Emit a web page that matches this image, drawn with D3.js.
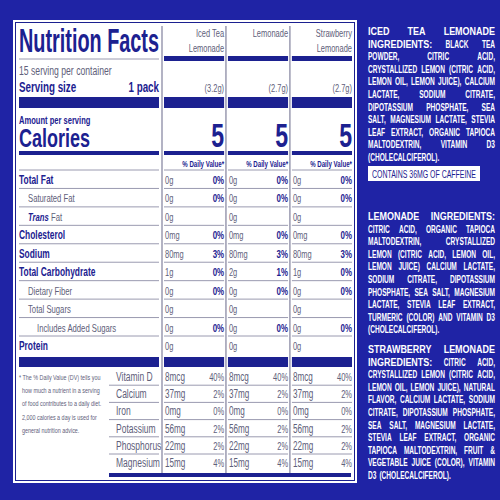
<!DOCTYPE html>
<html><head><meta charset="utf-8">
<script src="https://cdn.jsdelivr.net/npm/d3@7"></script>
<style>body{margin:0;background:#1f23a5}</style>
</head><body><div id="chart"></div>
<script>
const products = [["Iced Tea", "Lemonade"], ["Lemonade"], ["Strawberry", "Lemonade"]];
const servingSizes = ["(3.2g)", "(2.7g)", "(2.7g)"];
const calories = [5, 5, 5];
const nutrients = [
  { name: "Total Fat", bold: true, indent: 0 },
  { name: "Saturated Fat", bold: false, indent: 1 },
  { name: "Trans Fat", bold: false, indent: 1 },
  { name: "Cholesterol", bold: true, indent: 0 },
  { name: "Sodium", bold: true, indent: 0 },
  { name: "Total Carbohydrate", bold: true, indent: 0 },
  { name: "Dietary Fiber", bold: false, indent: 1 },
  { name: "Total Sugars", bold: false, indent: 1 },
  { name: "Includes Added Sugars", bold: false, indent: 2 },
  { name: "Protein", bold: true, indent: 0 }
];
const amounts = [
  ["0g", "0g", "0g", "0mg", "80mg", "1g", "0g", "0g", "0g", "0g"],
  ["0g", "0g", "0g", "0mg", "80mg", "2g", "0g", "0g", "0g", "0g"],
  ["0g", "0g", "0g", "0mg", "80mg", "1g", "0g", "0g", "0g", "0g"]
];
const dailyValues = [
  ["0%", "0%", "", "0%", "3%", "0%", "0%", "", "0%", ""],
  ["0%", "0%", "", "0%", "3%", "1%", "0%", "", "0%", ""],
  ["0%", "0%", "", "0%", "3%", "0%", "0%", "", "0%", ""]
];
const vitamins = ["Vitamin D", "Calcium", "Iron", "Potassium", "Phosphorus", "Magnesium"];
const vitAmounts = [
  ["8mcg", "37mg", "0mg", "56mg", "22mg", "15mg"],
  ["8mcg", "37mg", "0mg", "56mg", "22mg", "15mg"],
  ["8mcg", "37mg", "0mg", "56mg", "22mg", "15mg"]
];
const vitDV = [
  ["40%", "2%", "0%", "2%", "2%", "4%"],
  ["40%", "2%", "0%", "2%", "2%", "4%"],
  ["40%", "2%", "0%", "2%", "2%", "4%"]
];
const footnote = ["* The % Daily Value (DV) tells you", "how much a nutrient in a serving", "of food contributes to a daily diet.", "2,000 calories a day is used for", "general nutrition advice."];
const ingredients = [
  { head: "ICED TEA LEMONADE INGREDIENTS:", body: "BLACK TEA POWDER, CITRIC ACID, CRYSTALLIZED LEMON (CITRIC ACID, LEMON OIL, LEMON JUICE), CALCIUM LACTATE, SODIUM CITRATE, DIPOTASSIUM PHOSPHATE, SEA SALT, MAGNESIUM LACTATE, STEVIA LEAF EXTRACT, ORGANIC TAPIOCA MALTODEXTRIN, VITAMIN D3 (CHOLECALCIFEROL)." },
  { head: "LEMONADE INGREDIENTS:", body: "CITRIC ACID, ORGANIC TAPIOCA MALTODEXTRIN, CRYSTALLIZED LEMON (CITRIC ACID, LEMON OIL, LEMON JUICE) CALCIUM LACTATE, SODIUM CITRATE, DIPOTASSIUM PHOSPHATE, SEA SALT, MAGNESIUM LACTATE, STEVIA LEAF EXTRACT, TURMERIC (COLOR) AND VITAMIN D3 (CHOLECALCIFEROL)." },
  { head: "STRAWBERRY LEMONADE INGREDIENTS:", body: "CITRIC ACID, CRYSTALLIZED LEMON (CITRIC ACID, LEMON OIL, LEMON JUICE), NATURAL FLAVOR, CALCIUM LACTATE, SODIUM CITRATE, DIPOTASSIUM PHOSPHATE, SEA SALT, MAGNESIUM LACTATE, STEVIA LEAF EXTRACT, ORGANIC TAPIOCA MALTODEXTRIN, FRUIT & VEGETABLE JUICE (COLOR), VITAMIN D3 (CHOLECALCIFEROL)." }
];
const caffeine = "CONTAINS 36MG OF CAFFEINE";

const navy = "#1c2190", grey = "#60607a", rule = "#9a9ab0";
const font = "'Liberation Sans','DejaVu Sans',sans-serif";

const svg = d3.select("#chart").append("svg").attr("width", 500).attr("height", 500)
  .style("font-family", font);
svg.append("rect").attr("width", 500).attr("height", 500).attr("fill", "#1f23a5");
svg.append("rect").attr("x", 13).attr("y", 20).attr("width", 344).attr("height", 463).attr("fill", "#fff");
svg.append("rect").attr("x", 15.5).attr("y", 22.5).attr("width", 339).attr("height", 458)
  .attr("fill", "none").attr("stroke", navy).attr("stroke-width", 1);

const col = d3.scaleBand().domain(d3.range(3)).range([164, 352]).paddingInner(0.06);
const rowY = d3.scalePoint().domain(d3.range(nutrients.length)).range([180, 346]);
const vitY = d3.scalePoint().domain(d3.range(vitamins.length)).range([377, 463]);
const L0 = 19, L1 = 159;

function bar(x1, x2, y, h) {
  svg.append("rect").attr("x", x1).attr("y", y).attr("width", x2 - x1).attr("height", h).attr("fill", navy);
}
function line(x1, x2, y) {
  svg.append("line").attr("x1", x1).attr("x2", x2).attr("y1", y).attr("y2", y).attr("stroke", rule).attr("stroke-width", 1);
}
// condensed look: squeeze the natural width
function squeeze(t, k) {
  const w = t.node().getComputedTextLength();
  if (w > 0) t.attr("textLength", w * k).attr("lengthAdjust", "spacingAndGlyphs");
  return t;
}
function text(x, y, s, size, opts = {}) {
  const t = svg.append("text").attr("x", x).attr("y", y).text(s).attr("font-size", size)
    .attr("fill", opts.fill || navy).attr("font-weight", opts.bold ? "bold" : "normal")
    .attr("text-anchor", opts.anchor || "start");
  return squeeze(t, opts.k || 0.75);
}

d3.range(3).forEach(i => {
  const x = col(i) - 2;
  svg.append("line").attr("x1", x).attr("x2", x).attr("y1", 26).attr("y2", 473).attr("stroke", rule).attr("stroke-width", 1.5);
});

// left header
text(L0, 52, "Nutrition Facts", 33, { bold: true }).attr("textLength", 140);
line(L0, L1, 59);
text(L0, 75, "15 serving per container", 12, { fill: grey, k: 0.72 });
text(L0, 92, "Serving size", 14, { bold: true, k: 0.7 });
text(L1, 92, "1 pack", 14, { bold: true, anchor: "end", k: 0.7 });
bar(L0, L1, 97, 11);
text(L0, 124, "Amount per serving", 10.5, { bold: true, k: 0.72 });
text(L0, 147, "Calories", 25, { bold: true, k: 0.72 });
bar(L0, L1, 151, 4);

d3.range(3).forEach(i => {
  const x0 = col(i), x1 = col(i) + col.bandwidth();
  products[i].forEach((s, k) => text(x1, 37 + k * 15, s, 11, { fill: grey, anchor: "end", k: 0.68 }));
  bar(x0, x1, 56, 5);
  text(x1, 92, servingSizes[i], 11, { fill: grey, anchor: "end", k: 0.68 });
  bar(x0, x1, 97, 11);
  text(x1, 147, calories[i], 33, { bold: true, anchor: "end", k: 0.7 });
  bar(x0, x1, 151, 4);
  text(x1, 167, "% Daily Value*", 9, { bold: true, anchor: "end", k: 0.68 });
  nutrients.forEach((n, r) => {
    line(x0, x1, rowY(r) - 10);
    text(x0 + 1, rowY(r) + 4, amounts[i][r], 11, { fill: grey, k: 0.68 });
    if (dailyValues[i][r]) text(x1, rowY(r) + 4, dailyValues[i][r], 11, { bold: true, anchor: "end", k: 0.72 });
  });
  bar(x0, x1, 357, 10);
  vitamins.forEach((v, r) => {
    if (r > 0) line(x0, x1, vitY(r) - 9);
    text(x0 + 1, vitY(r) + 4, vitAmounts[i][r], 12, { fill: grey, k: 0.68 });
    text(x1, vitY(r) + 4, vitDV[i][r], 11, { fill: grey, anchor: "end", k: 0.68 });
  });
});

nutrients.forEach((n, r) => {
  line(L0, L1, rowY(r) - 10);
  const x = L0 + n.indent * 9, y = rowY(r) + 4;
  if (n.name === "Trans Fat") {
    const t = svg.append("text").attr("x", x).attr("y", y).attr("font-size", 11).attr("fill", grey);
    t.append("tspan").text("Trans").attr("font-style", "italic").attr("font-weight", "bold").attr("fill", navy);
    t.append("tspan").text(" Fat");
    squeeze(t, 0.7);
  } else {
    text(x, y, n.name, n.bold ? 12 : 11, { bold: n.bold, fill: n.bold ? navy : grey, k: 0.7 });
  }
});
bar(L0, L1, 357, 10);
vitamins.forEach((v, r) => {
  if (r > 0) line(109, L1, vitY(r) - 9);
  text(116, vitY(r) + 4, v, 12.5, { fill: grey, k: 0.68 });
});
bar(109, 351, 473, 4);
footnote.forEach((s, k) => text(k ? 22 : 19, 380 + k * 13.2, s, 7.5, { fill: grey, k: 0.72 }));

// ingredients, justified
const RX0 = 368, RX1 = 495, LH = 12.6, FS = 11.5;
function measure(word) {
  const t = svg.append("text").attr("font-size", FS).attr("font-weight", "bold").text(word);
  const w = t.node().getComputedTextLength(); t.remove(); return w;
}
function paragraph(block, y) {
  const words = block.head.split(" ").map(w => ({ w, head: true }))
    .concat(block.body.split(" ").map(w => ({ w, head: false })));
  words.forEach(d => d.len = measure(d.w) * (d.head ? 0.78 : 0.57));
  const lines = []; let cur = [], width = 0; const sp = 3;
  words.forEach(d => {
    const add = cur.length ? width + sp + d.len : d.len;
    if (add > RX1 - RX0 && cur.length) { lines.push(cur); cur = [d]; width = d.len; }
    else { cur.push(d); width = add; }
  });
  lines.push(cur);
  lines.forEach((ln, k) => {
    const total = d3.sum(ln, d => d.len);
    const last = k === lines.length - 1;
    const gap = last || ln.length < 2 ? sp : (RX1 - RX0 - total) / (ln.length - 1);
    let x = RX0;
    ln.forEach(d => {
      svg.append("text").attr("x", x).attr("y", y + k * LH).attr("font-size", FS)
        .attr("font-weight", "bold").attr("fill", "#fff").text(d.w)
        .attr("textLength", d.len).attr("lengthAdjust", "spacingAndGlyphs");
      x += d.len + gap;
    });
  });
  return y + lines.length * LH;
}
paragraph(ingredients[0], 35);
svg.append("rect").attr("x", 368).attr("y", 166).attr("width", 112).attr("height", 15).attr("fill", "#fff");
text(424, 177.5, caffeine, 10, { anchor: "middle" }).attr("textLength", 104);
paragraph(ingredients[1], 220);
paragraph(ingredients[2], 353);
</script></body></html>
